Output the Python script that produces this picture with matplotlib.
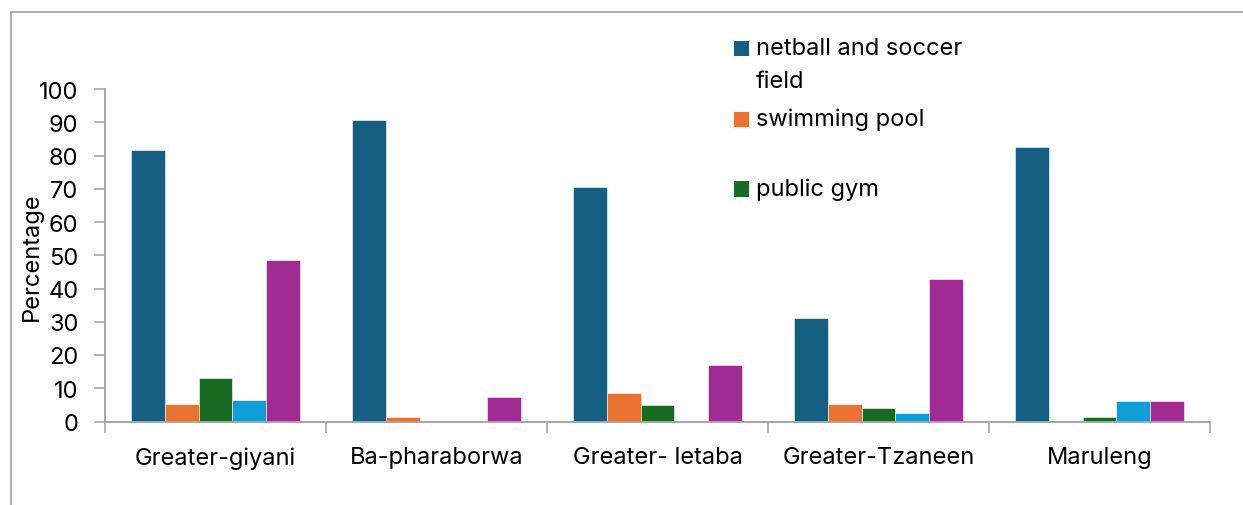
import matplotlib
matplotlib.use("Agg")
import matplotlib.pyplot as plt
import numpy as np
from matplotlib.patches import Rectangle
from matplotlib.lines import Line2D

categories = ["Greater-giyani", "Ba-pharaborwa", "Greater- letaba", "Greater-Tzaneen", "Maruleng"]
series_names = ["netball and soccer field", "swimming pool", "public gym", "series 4", "series 5"]
netball_soccer = [81.6, 90.8, 70.6, 31.1, 82.7]
swimming_pool = [5.2, 1.3, 8.5, 5.4, 0.0]
public_gym = [13.1, 0.0, 5.1, 4.0, 1.5]
series4 = [6.5, 0.0, 0.0, 2.7, 6.2]
series5 = [48.7, 7.5, 17.1, 43.0, 6.2]
yticks = list(range(0, 101, 10))

colors = ["#156082", "#E97132", "#196B24", "#0F9ED5", "#A02B93"]
values = [netball_soccer, swimming_pool, public_gym, series4, series5]

plt.rcParams['font.family'] = ['Inter', 'DejaVu Sans']
FS = 17
W, H = 1243, 506
fig = plt.figure(figsize=(W / 100, H / 100), dpi=100)
ax = fig.add_axes([105 / W, (H - 422.5) / H, 1105 / W, 332.5 / H])

x = np.arange(len(categories))
bw = 0.1535
for i, (vals, c) in enumerate(zip(values, colors)):
    ax.bar(x + (i - 2) * bw, vals, width=bw, color=c, edgecolor="white",
           linewidth=0.4, label=series_names[i], zorder=2)

ax.set_xlim(-0.5, len(categories) - 0.5)
ax.set_ylim(0, 100)
ax.set_yticks(yticks)
ax.set_yticklabels([str(t) for t in yticks], fontsize=FS, color="#000000")
ax.set_xticks(np.arange(-0.5, len(categories), 1.0))
ax.set_xticklabels([])
ax.set_xticks(x, minor=True)
ax.set_xticklabels(categories, minor=True, fontsize=FS)
ax.tick_params(axis="x", which="minor", length=0, pad=18)
ax.tick_params(axis="x", which="major", length=8, width=1.2, color="#A6A6A6", direction="out")
ax.tick_params(axis="y", length=8, width=1.2, color="#A6A6A6", direction="out", pad=11)

for s in ["top", "right"]:
    ax.spines[s].set_visible(False)
for s in ["left", "bottom"]:
    ax.spines[s].set_color("#A6A6A6")
    ax.spines[s].set_linewidth(1.4)

ax.set_ylabel("Percentage", fontsize=FS)
ax.yaxis.set_label_coords(-0.056, 0.5)

# legend (only three visible entries, as in the reference)
def fy(py):
    return (H - py) / H

def fx(px):
    return px / W

legend_items = [(colors[0], "netball and soccer", 49), (None, "field", 82),
                (colors[1], "swimming pool", 120), (colors[2], "public gym", 190)]
for c, label, py in legend_items:
    if c is not None:
        fig.patches.append(Rectangle((fx(734), fy(py + 7.5)), 15 / W, 15 / H,
                                     transform=fig.transFigure, facecolor=c,
                                     edgecolor="none"))
    fig.text(fx(756), fy(py), label, fontsize=FS, va="center", ha="left")

# outer frame lines
fig.add_artist(Line2D([fx(11), 1.0], [fy(13), fy(13)], color="#A6A6A6", lw=1.3,
                      transform=fig.transFigure))
fig.add_artist(Line2D([fx(11), fx(11)], [fy(13), 0.0], color="#A6A6A6", lw=1.3,
                      transform=fig.transFigure))

fig.savefig("out.png", dpi=100, facecolor="white")
